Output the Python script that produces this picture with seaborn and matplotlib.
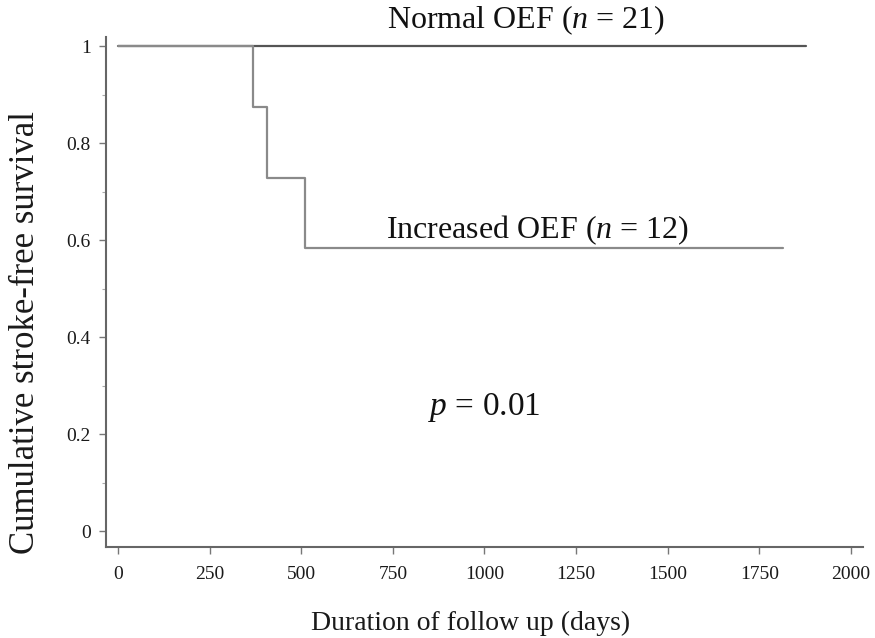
import matplotlib
matplotlib.use("Agg")
import matplotlib.pyplot as plt
import seaborn as sns
import pandas as pd
from matplotlib.ticker import MultipleLocator

# Data (Kaplan-Meier step curves)
normal_days = [0, 1878]
normal_surv = [1.0, 1.0]
increased_days = [0, 367, 406, 510, 1815]
increased_surv = [1.0, 0.875, 0.729, 0.583, 0.583]

x_ticks = [0, 250, 500, 750, 1000, 1250, 1500, 1750, 2000]
y_ticks = [0, 0.2, 0.4, 0.6, 0.8, 1.0]
y_tick_labels = ["0", "0.2", "0.4", "0.6", "0.8", "1"]

sns.set_theme(style="white")
plt.rcParams["font.family"] = ["Liberation Serif", "DejaVu Serif"]
plt.rcParams["mathtext.fontset"] = "custom"
plt.rcParams["mathtext.rm"] = "Liberation Serif"
plt.rcParams["mathtext.it"] = "Liberation Serif:italic"

df_norm = pd.DataFrame({"days": normal_days, "surv": normal_surv})
df_inc = pd.DataFrame({"days": increased_days, "surv": increased_surv})

fig = plt.figure(figsize=(8.75, 6.38), dpi=100)
ax = fig.add_axes([0.1211, 0.1426, 0.8652, 0.7994])

sns.lineplot(data=df_norm, x="days", y="surv", ax=ax, estimator=None,
             drawstyle="steps-post", color="#555555", linewidth=1.6)
sns.lineplot(data=df_inc, x="days", y="surv", ax=ax, estimator=None,
             drawstyle="steps-post", color="#8a8a8a", linewidth=1.6)

ax.set_xlim(-33, 2033)
ax.set_ylim(-0.033, 1.019)
ax.set_xticks(x_ticks)
ax.set_xticklabels([str(t) for t in x_ticks])
ax.set_yticks(y_ticks)
ax.set_yticklabels(y_tick_labels)
ax.yaxis.set_minor_locator(MultipleLocator(0.1))

for s in ["top", "right"]:
    ax.spines[s].set_visible(False)
for s in ["left", "bottom"]:
    ax.spines[s].set_color("#666666")
    ax.spines[s].set_linewidth(1.5)

ax.tick_params(axis="both", which="major", direction="out", length=5, width=1,
               color="#777777", labelsize=14, labelcolor="#1a1a1a", pad=6)
ax.tick_params(axis="y", which="minor", direction="out", length=3, width=0.8,
               color="#aaaaaa", left=True)
ax.tick_params(axis="x", bottom=True, pad=9)
ax.tick_params(axis="y", left=True)

ax.set_xlabel("Duration of follow up (days)", fontsize=20, color="#1a1a1a")
ax.set_ylabel("Cumulative stroke-free survival", fontsize=25, color="#1a1a1a")
ax.xaxis.set_label_coords(0.481, -0.125)
ax.yaxis.set_label_coords(-0.085, 0.42)

ax.text(734, 1.054, r"Normal OEF ($n$ = 21)", fontsize=23, ha="left", va="center",
        color="#111111", clip_on=False)
ax.text(731, 0.62, r"Increased OEF ($n$ = 12)", fontsize=23, ha="left", va="center",
        color="#111111")
ax.text(846, 0.254, r"$p$ = 0.01", fontsize=24, ha="left", va="center", color="#111111")

fig.savefig("out.png", dpi=100)
